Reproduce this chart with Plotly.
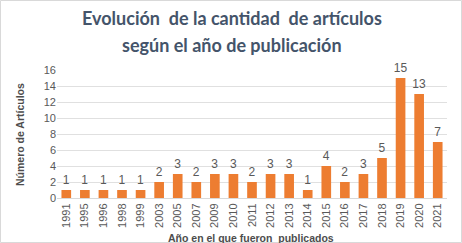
import plotly.graph_objects as go

years = ["1991","1995","1996","1998","1999","2003","2005","2007","2009","2010","2011",
         "2012","2013","2014","2015","2016","2017","2018","2019","2020","2021"]
counts = [1,1,1,1,1,2,3,2,3,3,2,3,3,1,4,2,3,5,15,13,7]

L, R, T, B = 57, 15, 70, 45
W, H = 462, 243
pw, ph = W - L - R, H - T - B


def py(p):
    # pixel from top -> paper y
    return (H - B - p) / ph


def px(p):
    return (p - L) / pw


title_font = dict(size=18, color="#44546A", family="Lato")
axis_title_font = dict(size=10.5, color="#4D4D4D", family="Liberation Sans")

fig = go.Figure(go.Bar(
    x=years, y=counts, text=counts, textposition="outside", constraintext="none",
    textfont=dict(size=12, color="#595959", family="Liberation Sans"),
    marker=dict(color="#ED7D31", line=dict(width=0)),
    cliponaxis=False,
))
fig.update_layout(
    width=W, height=H,
    margin=dict(l=L, r=R, t=T, b=B),
    paper_bgcolor="white", plot_bgcolor="white",
    bargap=0.48,
    showlegend=False,
    annotations=[
        dict(text="<b>Evolución  de la cantidad  de artículos</b>",
             xref="paper", yref="paper", x=px(232), y=py(18),
             xanchor="center", yanchor="middle", showarrow=False, font=title_font),
        dict(text="<b>según el año de publicación</b>",
             xref="paper", yref="paper", x=px(232), y=py(45),
             xanchor="center", yanchor="middle", showarrow=False, font=title_font),
        dict(text="<b>Año en el que fueron  publicados</b>", xref="paper", yref="paper",
             x=px(251), y=py(238), xanchor="center", yanchor="middle",
             showarrow=False, font=axis_title_font),
        dict(text="<b>Número de Artículos</b>", xref="paper", yref="paper",
             x=px(20), y=py(135), xanchor="center", yanchor="middle", textangle=-90,
             showarrow=False, font=axis_title_font),
    ],
    shapes=[dict(type="rect", xref="paper", yref="paper", x0=px(0.5), x1=px(W - 0.5),
                 y0=py(H - 0.5), y1=py(0.5),
                 line=dict(color="#D9D9D9", width=1))],
)
fig.update_xaxes(type="category", tickangle=-90, automargin=False,
                 tickfont=dict(size=11, color="#595959", family="Liberation Sans"),
                 showline=True, linecolor="#D9D9D9", ticks="")
fig.update_yaxes(range=[0, 16], dtick=2, gridcolor="#E0E0E0", zeroline=False, automargin=False,
                 tickfont=dict(size=11, color="#595959", family="Liberation Sans"))
fig.write_html("out.html", config={"displayModeBar": False},
               post_script="document.body.style.margin='0';")
